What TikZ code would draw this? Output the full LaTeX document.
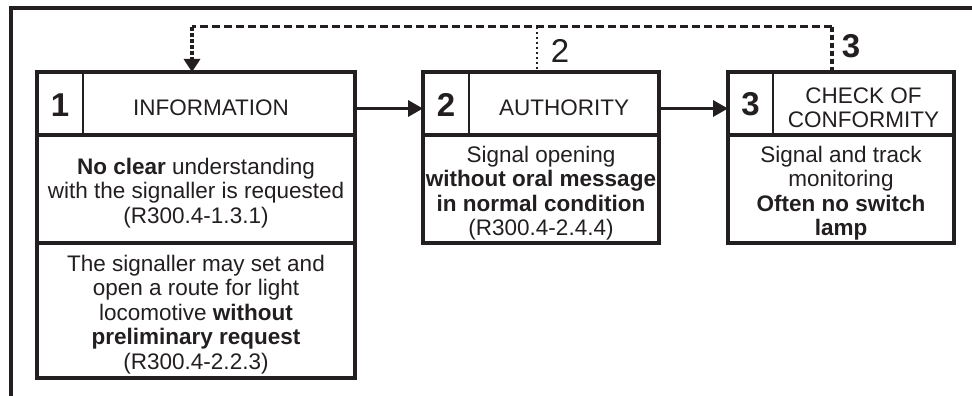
\documentclass[tikz,border=0pt]{standalone}
\usepackage{fontspec}
\setmainfont{Liberation Sans}
\usetikzlibrary{arrows.meta}
\definecolor{ink}{RGB}{35,31,32}
\newcommand\tstrut{\rule{0pt}{24.5pt}}
\begin{document}
\begin{tikzpicture}[x=1pt,y=-1pt,
  cell/.style={draw=none,inner sep=0pt,outer sep=0pt,anchor=north west,align=center,text=ink,font=\fontsize{22.5}{24.5}\selectfont},
  sect/.style={cell,draw=ink,line width=3.3pt},
  num/.style={cell,font=\fontsize{33}{33}\selectfont\bfseries},
  lbl/.style={inner sep=0pt,outer sep=0pt,text=ink,font=\fontsize{33}{33}\selectfont},
  rowframe/.style={draw=ink,line width=3.3pt},
  numsep/.style={draw=ink,line width=1.9pt},
  conn/.style={draw=ink,line width=3.3pt,-{Triangle[length=15pt,width=16pt]}},
  fbh/.style={draw=ink,line width=3pt,dash pattern=on 8pt off 4pt},
  fbv/.style={draw=ink,line width=3.3pt,dash pattern=on 5pt off 3pt},
  fbarrow/.style={draw=ink,line width=3.3pt,dash pattern=on 4pt off 2pt,-{Triangle[length=13pt,width=16pt]}},
  fbdot/.style={draw=ink,line width=2.2pt,dash pattern=on 2pt off 3pt},
  frame/.style={draw=ink,line width=3.3pt}
]
\useasboundingbox (0,0) rectangle (972,396);
% outer frame (cut at right and bottom)
\draw[frame] (11,396) -- (11,8) -- (972,8);

% box 1
\node[num,minimum width=46pt,minimum height=63pt] (n1) at (37,72) {\rule{0pt}{25pt}1};
\node[cell,minimum width=272pt,minimum height=63pt] (h1) at (83,72) {\tstrut\hspace*{-16pt}INFORMATION};
\draw[rowframe] (n1.north west) rectangle (h1.south east);
\draw[numsep] (n1.north east) -- (n1.south east);
\node[sect,minimum width=318pt,minimum height=108pt] (s1a) at (37,135) {\tstrut\textbf{No clear} understanding\\with the signaller is requested\\(R300.4-1.3.1)};
\node[sect,minimum width=318pt,minimum height=135pt] (s1b) at (37,243) {\tstrut The signaller may set and\\open a route for light\\locomotive \textbf{without}\\\textbf{preliminary request}\\(R300.4-2.2.3)};

% box 2
\node[num,minimum width=46pt,minimum height=63pt] (n2) at (423,72) {\rule{0pt}{25pt}2};
\node[cell,minimum width=190pt,minimum height=63pt] (h2) at (469,72) {\tstrut AUTHORITY};
\draw[rowframe] (n2.north west) rectangle (h2.south east);
\draw[numsep] (n2.north east) -- (n2.south east);
\node[sect,minimum width=236pt,minimum height=108pt] (s2) at (423,135) {\tstrut Signal opening\\\textbf{without oral message}\\\textbf{in normal condition}\\(R300.4-2.4.4)};

% box 3
\node[num,minimum width=45pt,minimum height=63pt] (n3) at (728,72) {\rule{0pt}{25pt}3};
\node[cell,minimum width=181pt,minimum height=63pt] (h3) at (773,72) {\tstrut CHECK OF\\CONFORMITY};
\draw[rowframe] (n3.north west) rectangle (h3.south east);
\draw[numsep] (n3.north east) -- (n3.south east);
\node[sect,minimum width=226pt,minimum height=108pt] (s3) at (728,135) {\tstrut Signal and track\\monitoring\\\textbf{Often no switch}\\\textbf{lamp}};

% forward arrows
\draw[conn] ([yshift=-5pt]h1.east) -- ([yshift=-5pt]n2.west);
\draw[conn] ([yshift=-5pt]h2.east) -- ([yshift=-5pt]n3.west);

% feedback lines
\coordinate (t1) at (192,27);
\coordinate (t2) at (537,27);
\coordinate (t3) at (832,27);
\draw[fbh] (t3) -- (t1);
\draw[fbv] (t3) -- (t3 |- h3.north);
\draw[fbarrow] (t1) -- (t1 |- h1.north);
\draw[fbdot] (t2) -- (t2 |- h2.north);

% labels
\node[lbl] (l2) at (560,50.5) {2};
\node[lbl,font=\fontsize{33}{33}\selectfont\bfseries] (l3) at (851,46.5) {3};
\end{tikzpicture}
\end{document}
